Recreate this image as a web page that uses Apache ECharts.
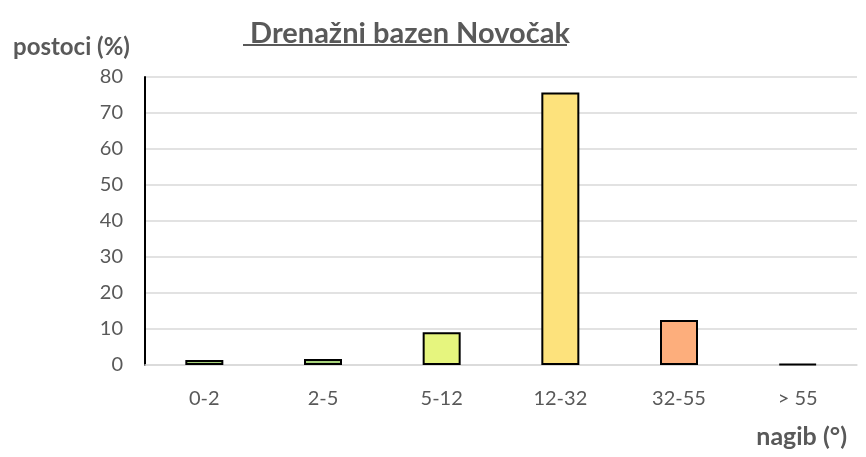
<!DOCTYPE html>
<html>
<head>
<meta charset="utf-8">
<script src="https://cdn.jsdelivr.net/npm/echarts@6/dist/echarts.min.js"></script>
<style>
  html, body { margin: 0; padding: 0; background: #fff; }
  #chart { width: 866px; height: 457px; }
</style>
</head>
<body>
<div id="chart"></div>
<script>
// nagib klase i postoci
const categories = ['0-2', '2-5', '5-12', '12-32', '32-55', '> 55'];
const values = [1.4, 1.7, 9.1, 75.7, 12.5, 0.3];
const barColors = ['#a9d47c', '#a9d47c', '#e6f57e', '#fde27c', '#fdae7c', '#f4706a'];
const yTicks = [0, 10, 20, 30, 40, 50, 60, 70, 80];

const FONT = 'Lato, "Open Sans", sans-serif';

let myChart = echarts.init(document.getElementById('chart'));
myChart.setOption({
  animation: false,
  title: [
    {
      text: 'Drenažni bazen Novočak',
      left: 405,
      top: 14,
      textAlign: 'center',
      textStyle: { color: '#595959', fontSize: 29, fontWeight: 'bold', fontFamily: FONT }
    },
    {
      text: 'postoci (%)',
      left: 8,
      top: 30,
      textStyle: { color: '#595959', fontSize: 24, fontWeight: 'bold', fontFamily: FONT }
    },
    {
      text: 'nagib (°)',
      right: 14,
      top: 419,
      textStyle: { color: '#595959', fontSize: 25, fontWeight: 'bold', fontFamily: FONT }
    }
  ],
  graphic: [
    { // podcrtani naslov
      type: 'line',
      shape: { x1: 243, y1: 45, x2: 567, y2: 45 },
      style: { stroke: '#595959', lineWidth: 2 }
    }
  ],
  grid: { left: 145, right: 9, top: 77, bottom: 92 },
  xAxis: {
    type: 'category',
    data: categories,
    axisLine: { lineStyle: { color: '#d9d9d9', width: 1.5 } },
    axisTick: { show: false },
    axisLabel: { color: '#595959', fontSize: 20, fontFamily: FONT, margin: 24 }
  },
  yAxis: {
    type: 'value',
    min: yTicks[0],
    max: yTicks[yTicks.length - 1],
    interval: 10,
    axisLine: { show: true, lineStyle: { color: '#000', width: 2 } },
    axisTick: { show: false },
    splitLine: { lineStyle: { color: '#d9d9d9', width: 1.5 } },
    axisLabel: { color: '#595959', fontSize: 20, fontFamily: FONT, margin: 22 }
  },
  series: [
    {
      type: 'bar',
      barWidth: 38,
      data: values.map((v, i) => ({
        value: v,
        itemStyle: { color: barColors[i] }
      })),
      itemStyle: { borderColor: '#000', borderWidth: 2 }
    }
  ]
});
</script>
</body>
</html>
